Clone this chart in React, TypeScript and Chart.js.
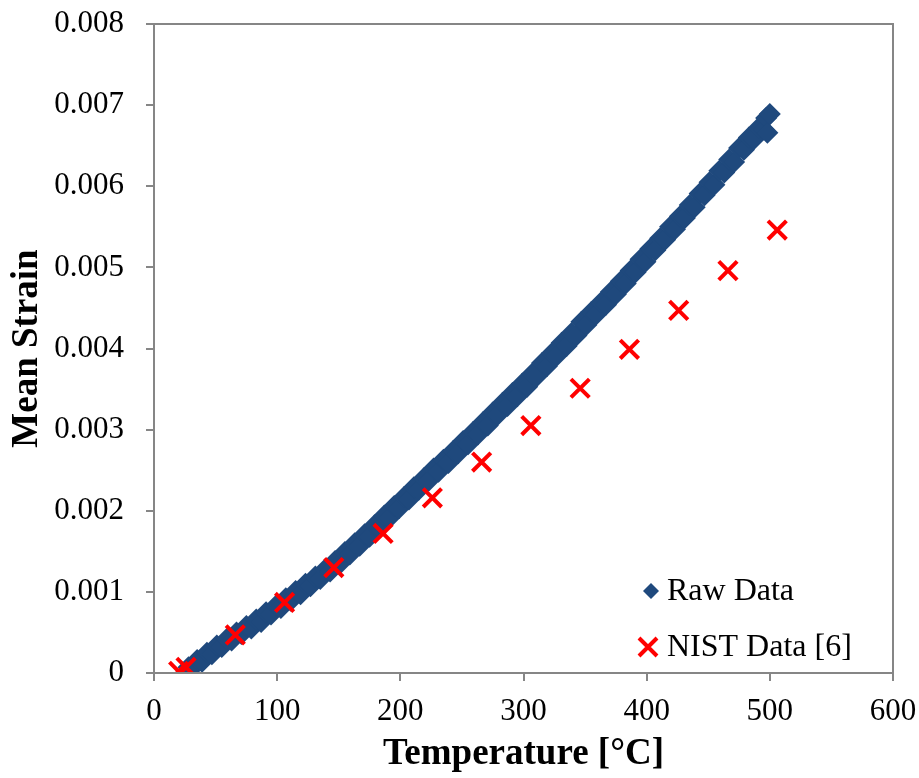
import React, { useEffect, useRef } from "react";
import { Chart, registerables } from "chart.js";

Chart.register(...registerables);

// ---- Data ----
const rawTemp = [
  28, 31, 35, 39, 43, 47, 51, 55, 59, 63, 67, 71, 75, 79, 83, 87, 91, 95, 99,
  103, 107, 111, 115, 119, 123, 127, 131, 135, 139, 143, 147, 151, 155, 159,
  163, 167, 171, 175, 179, 183, 187, 191, 195, 199, 203, 207, 211, 215, 219,
  223, 227, 231, 235, 239, 243, 247, 251, 255, 259, 263, 267, 271, 275, 279,
  283, 287, 291, 295, 299, 303, 307, 311, 315, 319, 323, 327, 331, 335, 339,
  343, 347, 351, 355, 359, 363, 367, 371, 375, 379, 383, 387, 391, 395, 399,
  403, 407, 411, 415, 419, 423, 427, 431, 435, 439, 443, 447, 451, 455, 459,
  463, 467, 471, 475, 479, 483, 487, 491, 495, 497, 498, 500,
];
const rawStrain = [
  0.00007, 0.00006, 0.00016, 0.00014, 0.00025, 0.00023, 0.00034, 0.00032,
  0.00042, 0.0004, 0.0005, 0.00048, 0.00058, 0.00055, 0.00066, 0.00063,
  0.00075, 0.00072, 0.00083, 0.0008, 0.00092, 0.00089, 0.00101, 0.00097,
  0.0011, 0.00107, 0.00119, 0.00116, 0.00128, 0.00125, 0.00138, 0.00135,
  0.00149, 0.00146, 0.0016, 0.00157, 0.00171, 0.00168, 0.00182, 0.00179,
  0.00194, 0.00191, 0.00206, 0.00203, 0.00217, 0.00214, 0.00229, 0.00226,
  0.0024, 0.00237, 0.00252, 0.00248, 0.00263, 0.00259, 0.00274, 0.00271,
  0.00286, 0.00282, 0.00297, 0.00294, 0.00309, 0.00305, 0.00321, 0.00318,
  0.00333, 0.00329, 0.00345, 0.00341, 0.00357, 0.00353, 0.00369, 0.00366,
  0.00382, 0.00378, 0.00394, 0.00391, 0.00407, 0.00403, 0.00419, 0.00416,
  0.00433, 0.00429, 0.00445, 0.00442, 0.00457, 0.00454, 0.0047, 0.00467,
  0.00483, 0.0048, 0.00496, 0.00494, 0.0051, 0.00507, 0.00523, 0.00521,
  0.00536, 0.00534, 0.0055, 0.00547, 0.00563, 0.00561, 0.00577, 0.00574,
  0.00591, 0.00589, 0.00605, 0.00602, 0.00619, 0.00617, 0.00633, 0.0063,
  0.00647, 0.00645, 0.0066, 0.00658, 0.00672, 0.0067, 0.00684, 0.00666,
  0.00689,
];

const nistTemp = [20, 26, 66, 106, 146, 186, 226, 266, 306, 346, 386, 426, 466, 506];
const nistStrain = [
  0.00002, 0.00007, 0.00047, 0.00087, 0.0013, 0.00172, 0.00216, 0.0026,
  0.00305, 0.00351, 0.00399, 0.00447, 0.00496, 0.00546,
];

const seriesLabels = ["Raw Data", "NIST Data [6]"];
const xTitle = "Temperature [°C]";
const yTitle = "Mean Strain";

const BLUE = "#1F497D";
const RED = "#FF0000";
const AXIS = "#868686";
const FONT = '"Liberation Serif", "Times New Roman", serif';

const frameAndLegend = {
  id: "frameAndLegend",
  afterDatasetsDraw(chart: any) {
    const { ctx, chartArea } = chart;
    ctx.save();
    // plot frame
    ctx.strokeStyle = AXIS;
    ctx.lineWidth = 2;
    ctx.strokeRect(chartArea.left, chartArea.top, chartArea.right - chartArea.left, chartArea.bottom - chartArea.top);

    // legend
    const textX = chartArea.right - 226;
    const y1 = chartArea.bottom - 82;
    const y2 = chartArea.bottom - 26;
    // diamond
    const dx = chartArea.right - 242;
    const r = 8;
    ctx.fillStyle = BLUE;
    ctx.beginPath();
    ctx.moveTo(dx - r, y1);
    ctx.lineTo(dx, y1 - r);
    ctx.lineTo(dx + r, y1);
    ctx.lineTo(dx, y1 + r);
    ctx.closePath();
    ctx.fill();
    // cross
    const cx = chartArea.right - 245;
    const c = 9;
    ctx.strokeStyle = RED;
    ctx.lineWidth = 4;
    ctx.beginPath();
    ctx.moveTo(cx - c, y2 - c);
    ctx.lineTo(cx + c, y2 + c);
    ctx.moveTo(cx - c, y2 + c);
    ctx.lineTo(cx + c, y2 - c);
    ctx.stroke();
    // text
    ctx.fillStyle = "#000";
    ctx.font = `32px ${FONT}`;
    ctx.textBaseline = "middle";
    ctx.textAlign = "left";
    ctx.fillText(seriesLabels[0], textX, y1 + 1);
    ctx.fillText(seriesLabels[1], textX, y2 + 1);
    ctx.restore();
  },
};

export default function App() {
  const ref = useRef<HTMLCanvasElement | null>(null);

  useEffect(() => {
    if (!ref.current) return;
    const chart = new Chart(ref.current, {
      type: "scatter",
      data: {
        datasets: [
          {
            label: seriesLabels[0],
            data: rawTemp.map((t, i) => ({ x: t, y: rawStrain[i] })),
            pointStyle: "rectRot",
            pointRadius: 11,
            pointHoverRadius: 11,
            backgroundColor: BLUE,
            borderColor: BLUE,
            borderWidth: 0,
            order: 2,
          },
          {
            label: seriesLabels[1],
            data: nistTemp.map((t, i) => ({ x: t, y: nistStrain[i] })),
            pointStyle: "crossRot",
            pointRadius: 13,
            pointHoverRadius: 13,
            backgroundColor: RED,
            borderColor: RED,
            borderWidth: 4,
            order: 1,
          },
        ],
      },
      options: {
        animation: false,
        responsive: false,
        maintainAspectRatio: false,
        layout: { padding: { left: 0, top: 24, right: 26, bottom: 0 } },
        plugins: {
          legend: { display: false },
          tooltip: { enabled: false },
        },
        scales: {
          x: {
            type: "linear",
            min: 0,
            max: 600,
            afterFit: (s: any) => {
              s.height = 105;
              s.paddingLeft = 0;
              s.paddingRight = 0;
            },
            ticks: {
              stepSize: 100,
              color: "#000",
              font: { family: FONT, size: 31 },
              padding: 12,
              maxRotation: 0,
            },
            grid: {
              drawOnChartArea: false,
              drawTicks: true,
              tickLength: 8,
              color: AXIS,
              lineWidth: 2,
            },
            border: { display: true, color: AXIS, width: 2 },
            title: {
              display: true,
              text: xTitle,
              color: "#000",
              font: { family: FONT, size: 37, weight: "bold" },
              padding: { top: 0, bottom: 1 },
            },
          },
          y: {
            type: "linear",
            min: 0,
            max: 0.008,
            afterFit: (s: any) => {
              s.width = 154;
              s.paddingTop = 0;
              s.paddingBottom = 0;
            },
            ticks: {
              stepSize: 0.001,
              color: "#000",
              font: { family: FONT, size: 31 },
              padding: 22,
              callback: (v: any) => (Number(v) === 0 ? "0" : Number(v).toFixed(3)),
            },
            grid: {
              drawOnChartArea: false,
              drawTicks: true,
              tickLength: 8,
              color: AXIS,
              lineWidth: 2,
            },
            border: { display: true, color: AXIS, width: 2 },
            title: {
              display: true,
              text: yTitle,
              color: "#000",
              font: { family: FONT, size: 37, weight: "bold" },
              padding: { top: 5, bottom: 0 },
            },
          },
        },
      },
      plugins: [frameAndLegend],
    });
    return () => chart.destroy();
  }, []);

  return (
    <div style={{ position: "absolute", left: 0, top: 0, width: 919, height: 778, background: "#fff" }}>
      <canvas ref={ref} width={919} height={778} style={{ display: "block" }} />
    </div>
  );
}
